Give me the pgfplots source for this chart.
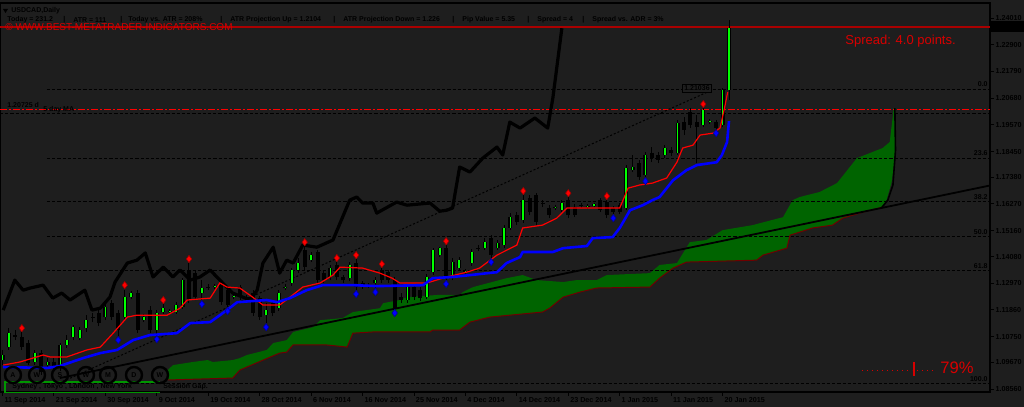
\documentclass[border=0pt]{standalone}
\usepackage{pgfplots}
\pgfplotsset{compat=1.18}
\usepackage{pgfplotstable}
\usepackage{fontspec}
\setmainfont{Liberation Sans}

\definecolor{bg}{RGB}{30,30,30}
\definecolor{kumo}{RGB}{0,100,0}
\definecolor{kumoedge}{RGB}{110,0,0}
\definecolor{bull}{RGB}{0,255,0}
\definecolor{mared}{RGB}{255,0,0}
\definecolor{mablue}{RGB}{0,0,255}
\definecolor{txtred}{RGB}{215,0,0}
\definecolor{topred}{RGB}{170,0,0}
\definecolor{boxgreen}{RGB}{0,150,0}

% daily candles, x = bar number (0 = 11 Sep 2014)
\pgfplotstableread{
b o h l c
0 1.0977 1.1019 1.0956 1.0998
1 1.1031 1.1110 1.1019 1.1089
5 1.0969 1.1019 1.0956 1.1006
7 1.0956 1.0985 1.0944 1.0969
9 1.0944 1.1048 1.0931 1.1040
10 1.1040 1.1081 1.1027 1.1060
11 1.1073 1.1123 1.1060 1.1114
12 1.1069 1.1114 1.1060 1.1102
13 1.1110 1.1164 1.1094 1.1143
16 1.1156 1.1210 1.1143 1.1198
19 1.1156 1.1268 1.1143 1.1239
20 1.1239 1.1264 1.1231 1.1256
22 1.1143 1.1169 1.1135 1.1156
24 1.1102 1.1185 1.1081 1.1173
25 1.1177 1.1210 1.1169 1.1193
26 1.1177 1.1189 1.1169 1.1181
27 1.1177 1.1218 1.1169 1.1206
28 1.1198 1.1318 1.1189 1.1310
31 1.1256 1.1310 1.1227 1.1277
33 1.1281 1.1294 1.1273 1.1285
36 1.1239 1.1252 1.1231 1.1243
41 1.1164 1.1214 1.1131 1.1185
43 1.1193 1.1268 1.1181 1.1256
44 1.1277 1.1294 1.1268 1.1281
45 1.1298 1.1360 1.1285 1.1352
46 1.1352 1.1402 1.1339 1.1381
48 1.1393 1.1427 1.1385 1.1414
51 1.1323 1.1373 1.1310 1.1360
54 1.1318 1.1385 1.1306 1.1373
58 1.1298 1.1323 1.1277 1.1310
63 1.1227 1.1289 1.1214 1.1281
66 1.1239 1.1335 1.1231 1.1323
67 1.1343 1.1443 1.1331 1.1435
68 1.1414 1.1447 1.1406 1.1443
70 1.1323 1.1402 1.1310 1.1385
71 1.1360 1.1406 1.1348 1.1393
72 1.1343 1.1356 1.1335 1.1348
73 1.1381 1.1439 1.1368 1.1427
75 1.1443 1.1485 1.1435 1.1468
77 1.1443 1.1477 1.1435 1.1464
78 1.1456 1.1539 1.1443 1.1527
79 1.1527 1.1589 1.1518 1.1572
81 1.1560 1.1664 1.1547 1.1643
86 1.1610 1.1622 1.1601 1.1614
87 1.1601 1.1643 1.1593 1.1631
91 1.1614 1.1627 1.1606 1.1618
92 1.1618 1.1631 1.1614 1.1627
97 1.1610 1.1789 1.1601 1.1776
98 1.1768 1.1831 1.1760 1.1781
100 1.1747 1.1843 1.1735 1.1831
103 1.1831 1.1872 1.1818 1.1860
105 1.1839 1.1976 1.1831 1.1964
109 1.1956 1.2026 1.1947 1.2018
110 1.1968 1.1981 1.1960 1.1972
112 1.1956 1.2110 1.1947 1.2101
113 1.2101 1.2393 1.2060 1.2359
}\bullbars

\pgfplotstableread{
b o h l c
2 1.1081 1.1102 1.1060 1.1073
3 1.1073 1.1094 1.1019 1.1031
4 1.1048 1.1060 1.0956 1.0965
6 1.1006 1.1019 1.0915 1.0927
8 1.0969 1.0985 1.0927 1.0944
14 1.1156 1.1173 1.1135 1.1152
15 1.1173 1.1185 1.1118 1.1131
17 1.1214 1.1227 1.1143 1.1156
18 1.1173 1.1185 1.1073 1.1102
21 1.1256 1.1268 1.1089 1.1102
23 1.1185 1.1202 1.1089 1.1102
29 1.1352 1.1381 1.1214 1.1227
30 1.1339 1.1352 1.1227 1.1239
32 1.1281 1.1294 1.1268 1.1277
34 1.1298 1.1310 1.1206 1.1218
35 1.1268 1.1281 1.1198 1.1206
37 1.1281 1.1289 1.1227 1.1239
38 1.1239 1.1248 1.1223 1.1235
39 1.1256 1.1268 1.1160 1.1173
40 1.1235 1.1243 1.1143 1.1156
42 1.1214 1.1227 1.1160 1.1173
47 1.1435 1.1452 1.1352 1.1364
49 1.1427 1.1435 1.1298 1.1310
50 1.1339 1.1352 1.1298 1.1310
52 1.1373 1.1385 1.1310 1.1323
53 1.1323 1.1331 1.1298 1.1310
55 1.1381 1.1398 1.1268 1.1281
56 1.1298 1.1306 1.1273 1.1281
57 1.1289 1.1298 1.1277 1.1285
59 1.1352 1.1360 1.1298 1.1310
60 1.1343 1.1352 1.1298 1.1310
61 1.1310 1.1323 1.1185 1.1193
62 1.1239 1.1256 1.1214 1.1227
64 1.1281 1.1294 1.1227 1.1239
65 1.1268 1.1281 1.1223 1.1235
69 1.1443 1.1456 1.1310 1.1318
74 1.1443 1.1456 1.1431 1.1439
76 1.1485 1.1497 1.1402 1.1414
80 1.1581 1.1593 1.1539 1.1552
82 1.1652 1.1664 1.1581 1.1593
83 1.1664 1.1672 1.1539 1.1552
84 1.1631 1.1643 1.1614 1.1627
85 1.1610 1.1622 1.1568 1.1581
88 1.1643 1.1656 1.1568 1.1581
89 1.1614 1.1627 1.1572 1.1581
90 1.1622 1.1631 1.1610 1.1618
93 1.1643 1.1652 1.1593 1.1601
94 1.1635 1.1643 1.1568 1.1581
95 1.1610 1.1618 1.1585 1.1593
96 1.1622 1.1631 1.1585 1.1593
99 1.1797 1.1810 1.1726 1.1739
101 1.1839 1.1864 1.1801 1.1818
102 1.1831 1.1843 1.1797 1.1810
104 1.1851 1.1864 1.1826 1.1839
106 1.1968 1.1989 1.1914 1.1935
107 1.2010 1.2026 1.1943 1.1956
108 1.1968 1.1997 1.1797 1.1947
111 1.1968 1.1976 1.1935 1.1943
}\bearbars

\tikzset{
  lbl/.style={font=\fontsize{3.5}{4}\selectfont\bfseries, text=black, inner sep=0pt},
}

\begin{document}
\begin{tikzpicture}[x=0.5pt,y=0.5pt]
\fill[bg] (0,0) rectangle (1024,407);
\fill[black] (991,375) rectangle (1024,386);

\begin{axis}[
    at={(0pt,7.5pt)}, anchor=south west,
    scale only axis, width=495pt, height=194.5pt,
    xmin=-0.4, xmax=153.6, ymin=1.0844, ymax=1.2464,
    axis line style={black, line width=0.8pt},
    xtick={0,8,...,112},
    xticklabels={11 Sep 2014,21 Sep 2014,30 Sep 2014,9 Oct 2014,19 Oct 2014,28 Oct 2014,6 Nov 2014,16 Nov 2014,25 Nov 2014,4 Dec 2014,14 Dec 2014,23 Dec 2014,1 Jan 2015,11 Jan 2015,20 Jan 2015},
    ytick={1.0856,1.0967,1.1075,1.1186,1.1297,1.1408,1.1516,1.1627,1.1738,1.1845,1.1957,1.2068,1.2179,1.2290,1.2401},
    yticklabels={1.08560,1.09670,1.10750,1.11860,1.12970,1.14080,1.15160,1.16270,1.17380,1.18450,1.19570,1.20680,1.21790,1.22900,1.24010},
    xtick pos=bottom, ytick pos=right, yticklabel pos=right,
    tick align=outside, major tick length=2pt,
    tick style={black, line width=0.5pt},
    ticklabel style={font=\fontsize{3.6}{4}\selectfont\bfseries, text=black, inner sep=0pt},
    xticklabel style={anchor=north west, xshift=0.8pt, yshift=-0.6pt},
    yticklabel style={anchor=west, xshift=0.6pt},
    /pgf/number format/assume math mode=true,
]

% Ichimoku cloud
\addplot[draw=none, fill=kumo] coordinates {
 (25.7,1.0935) (26.5,1.0956) (29.6,1.0969) (31.9,1.0977) (32.7,1.0969) (35.8,1.0977)
 (36.9,1.0985) (38.0,1.0998) (41.1,1.1019) (42.1,1.1048) (44.2,1.1060) (45.2,1.1094)
 (48.3,1.1114) (49.4,1.1143) (52.9,1.1152) (54.5,1.1177) (58.7,1.1193) (59.2,1.1214)
 (61.8,1.1227) (62.9,1.1239) (67.6,1.1248) (71.1,1.1248) (71.6,1.1260) (73.2,1.1281)
 (78.4,1.1318) (80.9,1.1331) (83.1,1.1310) (87.2,1.1302) (89.3,1.1310) (92.4,1.1310)
 (94.0,1.1331) (100.7,1.1339) (102.2,1.1373) (104.9,1.1381) (106.9,1.1468) (109.5,1.1477)
 (112.0,1.1518) (116.7,1.1539) (117.8,1.1547) (121.4,1.1572) (122.9,1.1643) (124.0,1.1656)
 (127.1,1.1677) (129.8,1.1714) (132.9,1.1818) (136.9,1.1860) (138.0,1.1885) (138.5,1.1997)
 (138.6,1.2026)
 (138.9,1.2026) (138.8,1.1818) (138.3,1.1718) (137.5,1.1643) (136.9,1.1614) (133.8,1.1593)
 (130.7,1.1568) (129.1,1.1539) (126.0,1.1527) (122.5,1.1497) (122.0,1.1443) (118.3,1.1414)
 (117.3,1.1393) (106.4,1.1385) (104.3,1.1360) (102.2,1.1318) (100.7,1.1281) (92.4,1.1277)
 (89.8,1.1260) (87.2,1.1239) (85.1,1.1193) (84.0,1.1177) (75.8,1.1156) (72.7,1.1135)
 (71.1,1.1102) (66.9,1.1102) (66.5,1.1094) (57.6,1.1094) (54.5,1.1089) (53.6,1.1031)
 (50.4,1.1040) (45.2,1.1040) (44.2,1.1010) (43.1,1.1006) (38.0,1.0948) (36.9,1.0935)
 (35.8,1.0902) (25.7,1.0894)
};
\addplot[kumoedge, line width=0.5pt] coordinates {
 (25.7,1.0894) (35.8,1.0902) (36.9,1.0935) (38.0,1.0948) (43.1,1.1006) (44.2,1.1010)
 (45.2,1.1040) (50.4,1.1040) (53.6,1.1031) (54.5,1.1089) (57.6,1.1094) (66.5,1.1094)
 (66.9,1.1102) (71.1,1.1102) (72.7,1.1135) (75.8,1.1156) (84.0,1.1177) (85.1,1.1193)
 (87.2,1.1239) (89.8,1.1260) (92.4,1.1277) (100.7,1.1281) (102.2,1.1318) (104.3,1.1360)
 (106.4,1.1385) (117.3,1.1393) (118.3,1.1414) (122.0,1.1443) (122.5,1.1497) (126.0,1.1527)
 (129.1,1.1539) (130.7,1.1568) (133.8,1.1593) (136.9,1.1614)
};

% Fibonacci levels
\addplot[black, line width=0.5pt, dash pattern=on 1.6pt off 1pt] coordinates {(6.9,1.2105) (153.6,1.2105)};
\addplot[black, line width=0.5pt, dash pattern=on 1.6pt off 1pt] coordinates {(6.9,1.1816) (153.6,1.1816)};
\addplot[black, line width=0.5pt, dash pattern=on 1.6pt off 1pt] coordinates {(6.9,1.1637) (153.6,1.1637)};
\addplot[black, line width=0.5pt, dash pattern=on 1.6pt off 1pt] coordinates {(6.9,1.1493) (153.6,1.1493)};
\addplot[black, line width=0.5pt, dash pattern=on 1.6pt off 1pt] coordinates {(6.9,1.1349) (153.6,1.1349)};
\addplot[black, line width=0.5pt, dash pattern=on 1.6pt off 1pt] coordinates {(6.9,1.0881) (153.6,1.0881)};

% level lines
\addplot[mared, line width=0.5pt, dash pattern=on 3.5pt off 1.2pt on 0.6pt off 1.2pt] coordinates {(-0.4,1.2022) (153.6,1.2022)};
\addplot[black, line width=0.5pt, dash pattern=on 1.6pt off 1pt] coordinates {(-0.4,1.2005) (153.6,1.2005)};
\addplot[topred, line width=0.6pt] coordinates {(-0.4,1.2364) (153.6,1.2364)};

% trend lines
\addplot[black, line width=0.9pt] coordinates {(8.9,1.0902) (153.6,1.1704)};
\addplot[black, line width=0.5pt, dash pattern=on 1pt off 1pt] coordinates {(8.8,1.0881) (110.3,1.2101)};
\addplot[black, line width=0.8pt] coordinates {(138.8,1.2026) (138.9,1.1851) (138.5,1.1706) (137.7,1.1643) (136.7,1.1610)};

% thick black line
\addplot[black, line width=1.6pt, line join=round] coordinates {
 (0.1,1.1185) (1.9,1.1310) (3.2,1.1268) (4.3,1.1277) (6.3,1.1289) (7.8,1.1235) (9.2,1.1256)
 (10.5,1.1227) (12.8,1.1268) (13.9,1.1185) (15.2,1.1193) (16.7,1.1239) (17.5,1.1302)
 (19.4,1.1381) (20.9,1.1393) (22.2,1.1423) (23.4,1.1323) (25.0,1.1364) (26.5,1.1323)
 (27.6,1.1352) (29.2,1.1310) (30.7,1.1323) (32.3,1.1352) (33.8,1.1310) (35.8,1.1256)
 (38.5,1.1227) (39.6,1.1268) (40.5,1.1381) (42.1,1.1447) (43.1,1.1339) (44.2,1.1393)
 (45.2,1.1381) (46.7,1.1456) (48.9,1.1447) (51.4,1.1477) (54.0,1.1643) (55.1,1.1656)
 (56.0,1.1631) (57.6,1.1631) (58.2,1.1589) (61.3,1.1635) (62.9,1.1622) (66.5,1.1631)
 (68.0,1.1597) (69.1,1.1601) (70.0,1.1610) (71.1,1.1781) (72.7,1.1760) (74.7,1.1818)
 (76.9,1.1864) (77.8,1.1831) (78.9,1.1968) (80.5,1.1943) (82.8,1.1985) (84.8,1.1943)
 (85.6,1.2068) (87.0,1.2359)
};

% candles: wicks
\addplot[black, line width=0.5pt, -, quiver={u=0, v=\thisrow{h}-\thisrow{l}}] table[x=b, y=l] {\bullbars};
\addplot[black, line width=0.5pt, -, quiver={u=0, v=\thisrow{h}-\thisrow{l}}] table[x=b, y=l] {\bearbars};
% candles: bodies
\addplot[black, line width=2pt, -, quiver={u=0, v=\thisrow{c}-\thisrow{o}}] table[x=b, y=o] {\bearbars};
\addplot[black, line width=2pt, -, quiver={u=0, v=\thisrow{c}-\thisrow{o}}] table[x=b, y=o] {\bullbars};
\addplot[bull, line width=0.9pt, -, quiver={u=0, v=\thisrow{c}-\thisrow{o}}] table[x=b, y=o] {\bullbars};

% moving lines
\addplot[mared, line width=0.6pt] coordinates {
 (0.1,1.0956) (2.7,1.0969) (6.3,1.0998) (7.4,1.0990) (10.0,1.0990) (13.1,1.1019) (15.2,1.1031)
 (17.2,1.1089) (19.4,1.1156) (20.9,1.1164) (25.6,1.1164) (27.6,1.1193) (28.7,1.1227)
 (32.3,1.1235) (33.8,1.1298) (34.9,1.1281) (36.9,1.1277) (38.9,1.1239) (40.5,1.1206)
 (43.1,1.1206) (44.7,1.1239) (46.7,1.1281) (49.4,1.1298) (51.4,1.1331) (52.5,1.1364)
 (56.0,1.1360) (58.7,1.1339) (60.6,1.1318) (61.8,1.1298) (66.0,1.1298) (69.1,1.1323)
 (72.2,1.1343) (74.2,1.1360) (76.9,1.1414) (80.0,1.1456) (80.9,1.1527) (84.0,1.1539)
 (86.2,1.1568) (87.8,1.1610) (96.0,1.1610) (97.3,1.1693) (99.1,1.1706) (101.1,1.1714)
 (103.3,1.1735) (104.9,1.1801) (105.8,1.1860) (107.4,1.1872) (108.5,1.1914) (110.5,1.1922)
 (111.6,1.1943) (112.3,1.2026) (112.8,1.2093)
};
\addplot[mablue, line width=1.3pt, line join=round] coordinates {
 (0.1,1.0948) (6.9,1.0944) (8.9,1.0952) (12.5,1.0985) (15.2,1.1006) (17.8,1.1019)
 (20.3,1.1060) (22.9,1.1081) (27.1,1.1089) (29.2,1.1131) (32.3,1.1135) (34.9,1.1185)
 (36.5,1.1218) (41.1,1.1227) (42.7,1.1218) (44.7,1.1235) (47.3,1.1268) (49.8,1.1289)
 (54.5,1.1289) (58.2,1.1285) (65.4,1.1289) (66.9,1.1318) (70.0,1.1323) (76.9,1.1343)
 (78.4,1.1381) (80.5,1.1406) (80.9,1.1427) (85.6,1.1427) (87.2,1.1443) (90.9,1.1452)
 (91.8,1.1485) (94.9,1.1489) (96.0,1.1527) (97.6,1.1601) (99.6,1.1622) (101.1,1.1643)
 (102.2,1.1656) (104.3,1.1726) (106.4,1.1768) (108.0,1.1789) (111.1,1.1801) (111.9,1.1831)
 (112.7,1.1885) (113.0,1.1972)
};

% fractals
\addplot[only marks, mark=diamond*, mark size=1.8pt, mark options={fill=mared, draw=black!40!red, line width=0.3pt}] coordinates {
 (3,1.1110) (19,1.1289) (25,1.1227) (29,1.1398) (47,1.1468) (52,1.1402) (55,1.1414)
 (59,1.1377) (69,1.1472) (81,1.1681) (88,1.1672) (94,1.1660) (109,1.2043)
};
\addplot[only marks, mark=diamond*, mark size=1.8pt, mark options={fill=mablue, draw=black!40!blue, line width=0.3pt}] coordinates {
 (18,1.1060) (24,1.1064) (31,1.1210) (35,1.1181) (41,1.1114) (55,1.1252) (58,1.1260)
 (61,1.1173) (69,1.1294) (76,1.1385) (95,1.1568) (100,1.1722) (111,1.1922)
};
\end{axis}

% header and info line
\fill[black] (3,398) -- (8,398) -- (5.5,394) -- cycle;
\node[lbl, anchor=west] at (11,396) {USDCAD,Daily};
\node[lbl, anchor=west] at (7,387) {Today = 231.2};
\node[lbl, anchor=west] at (63,387) {|};
\node[lbl, anchor=west] at (73,387) {ATR = 111};
\node[lbl, anchor=west] at (120,387) {|};
\node[lbl, anchor=west] at (128,387) {Today vs. ATR = 208\%};
\node[lbl, anchor=west] at (220,387) {|};
\node[lbl, anchor=west] at (230,387) {ATR Projection Up = 1.2104};
\node[lbl, anchor=west] at (333,387) {|};
\node[lbl, anchor=west] at (343,387) {ATR Projection Down = 1.226};
\node[lbl, anchor=west] at (452,387) {|};
\node[lbl, anchor=west] at (462,387) {Pip Value = 5.35};
\node[lbl, anchor=west] at (527,387) {|};
\node[lbl, anchor=west] at (537,387) {Spread = 4};
\node[lbl, anchor=west] at (582,387) {|};
\node[lbl, anchor=west] at (592,387) {Spread vs. ADR = 3\%};
\node[anchor=west, inner sep=0pt, text=txtred, font=\fontsize{5}{6}\selectfont] at (5,380) {© WWW.BEST-METATRADER-INDICATORS.COM};

% right side texts
\node[anchor=west, inner sep=0pt, text=txtred, font=\fontsize{6.5}{7}\selectfont] at (845,366) {Spread: 4.0 points.};
\node[anchor=west, inner sep=0pt, text=txtred, font=\fontsize{8.3}{9}\selectfont] at (940,39) {79\%};
\draw[txtred, line width=0.5pt, dash pattern=on 0.5pt off 2pt] (862,36) -- (912,36);
\draw[txtred, line width=0.5pt, dash pattern=on 0.5pt off 2pt] (917,36) -- (934,36);
\draw[txtred, line width=0.6pt] (914,31) -- (914,45);

% fibo labels
\node[lbl, anchor=east] at (988,323) {0.0};
\node[lbl, anchor=east] at (988,254) {23.6};
\node[lbl, anchor=east] at (988,210) {38.2};
\node[lbl, anchor=east] at (988,175) {50.0};
\node[lbl, anchor=east] at (988,141) {61.8};
\node[lbl, anchor=east] at (988,28) {100.0};
\node[lbl, draw=black, fill=bg, line width=0.5pt, inner sep=1pt] at (697,318.5) {1.21036};
\node[lbl, anchor=west] at (7,302) {1.20725 d};
\node[lbl, anchor=west] at (43,297) {5 day MA};

% bottom-left panel
\draw[boxgreen, line width=0.8pt] (5,14) -- (5,25) -- (160,25);
\draw[boxgreen, line width=0.8pt] (5,14.5) -- (160,14.5);
\foreach \cx/\t in {13/A, 37/W, 60/S, 86/W, 108/M, 134/D, 160/W}{
  \draw[black, line width=1.2pt] (\cx,32) circle (8);
  \node[lbl] at (\cx,32) {\t};
}
\node[lbl, anchor=west] at (12,20) {Sydney , Tokyo , London , New York};
\node[lbl, anchor=west] at (163,20) {Session Gap.};

\pgfresetboundingbox
\path[use as bounding box] (0,0) rectangle (1024,407);
\end{tikzpicture}
\end{document}
